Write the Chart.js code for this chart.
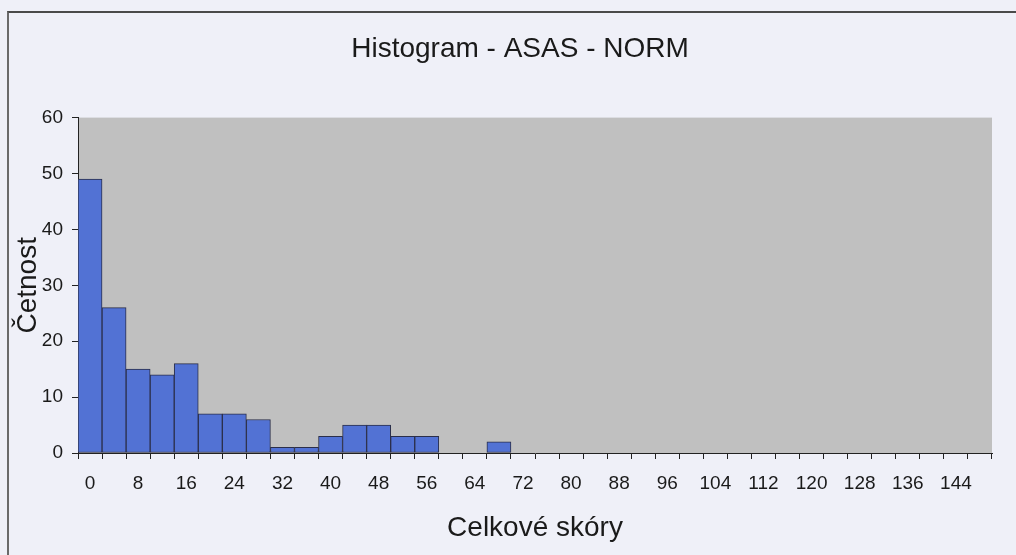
<!DOCTYPE html>
<html>
<head>
<meta charset="utf-8">
<script src="https://cdn.jsdelivr.net/npm/chart.js@4.4.1/dist/chart.umd.min.js"></script>
<style>
  html, body { margin: 0; padding: 0; background: #eff0f8; width: 1016px; height: 555px; overflow: hidden; }
  #frame { position: absolute; left: 7px; top: 11px; width: 1040px; height: 600px;
           border-left: 2px solid #6a6a6a; border-top: 2px solid #4a4a4a; }
  #c { position: absolute; left: 0; top: 0; }
</style>
</head>
<body>
<div id="frame"></div>
<canvas id="c" width="1040" height="555"></canvas>
<script>
const chartTitle = "Histogram - ASAS - NORM";
const xAxisTitle = "Celkové skóry";
const yAxisTitle = "Četnost";

const bins = [0, 4, 8, 12, 16, 20, 24, 28, 32, 36, 40, 44, 48, 52, 56, 60, 64, 68, 72, 76,
              80, 84, 88, 92, 96, 100, 104, 108, 112, 116, 120, 124, 128, 132, 136, 140, 144, 148];
const counts = [49, 26, 15, 14, 16, 7, 7, 6, 1, 1, 3, 5, 5, 3, 3, 0, 0, 2, 0, 0,
                0, 0, 0, 0, 0, 0, 0, 0, 0, 0, 0, 0, 0, 0, 0, 0, 0, 0];
const yTicks = [0, 10, 20, 30, 40, 50, 60];

const FONT = "'Liberation Sans', Arial, sans-serif";
const TEXT = '#1a1a1a';
const AXIS = '#222222';

const plotBg = {
  id: 'plotBg',
  beforeDraw(chart) {
    const {ctx, chartArea: a} = chart;
    ctx.save();
    ctx.fillStyle = '#c0c0c0';
    ctx.fillRect(a.left, a.top, a.right - a.left, a.bottom - a.top);
    ctx.restore();
  }
};

new Chart(document.getElementById('c'), {
  type: 'bar',
  data: {
    labels: bins,
    datasets: [{
      data: counts,
      backgroundColor: '#5272d4',
      borderColor: '#2b2f4a',
      borderWidth: 1,
      borderSkipped: false,
      barPercentage: 1,
      categoryPercentage: 1
    }]
  },
  options: {
    responsive: false,
    devicePixelRatio: 1,
    animation: false,
    layout: { padding: { left: 0, right: 0, top: 0, bottom: 0 } },
    plugins: {
      legend: { display: false },
      tooltip: { enabled: false },
      title: {
        display: true,
        text: chartTitle,
        color: TEXT,
        font: { family: FONT, size: 28, weight: 'normal' },
        padding: { top: 32, bottom: 52 }
      }
    },
    scales: {
      x: {
        type: 'category',
        offset: true,
        afterFit(scale) { scale.height = 102; },
        grid: { offset: true, drawOnChartArea: false, drawTicks: true, tickLength: 6, color: AXIS, lineWidth: 1 },
        border: { display: true, color: AXIS, width: 1 },
        ticks: {
          autoSkip: false, maxRotation: 0, minRotation: 0,
          color: TEXT, padding: 13,
          font: { family: FONT, size: 19 },
          callback: function(val, idx) { return idx % 2 === 0 ? this.getLabelForValue(val) : ''; }
        },
        title: {
          display: true, text: xAxisTitle, color: TEXT,
          font: { family: FONT, size: 28 },
          padding: { top: 0, bottom: 10 }
        }
      },
      y: {
        min: 0, max: 60,
        afterFit(scale) { scale.width = 78; },
        afterBuildTicks(scale) { scale.ticks = yTicks.map(v => ({ value: v })); },
        grid: { drawOnChartArea: false, drawTicks: true, tickLength: 6, color: AXIS, lineWidth: 1 },
        border: { display: true, color: AXIS, width: 1 },
        ticks: {
          color: TEXT, padding: 9,
          font: { family: FONT, size: 19 }
        },
        title: {
          display: true, text: yAxisTitle, color: TEXT,
          font: { family: FONT, size: 28 },
          padding: { top: 11, bottom: 0 }
        }
      },
      yRight: {
        type: 'linear',
        position: 'right',
        display: true,
        afterFit(scale) { scale.width = 48; },
        grid: { display: false, drawTicks: false },
        border: { display: false },
        ticks: { display: false }
      }
    }
  },
  plugins: [plotBg]
});
</script>
</body>
</html>
